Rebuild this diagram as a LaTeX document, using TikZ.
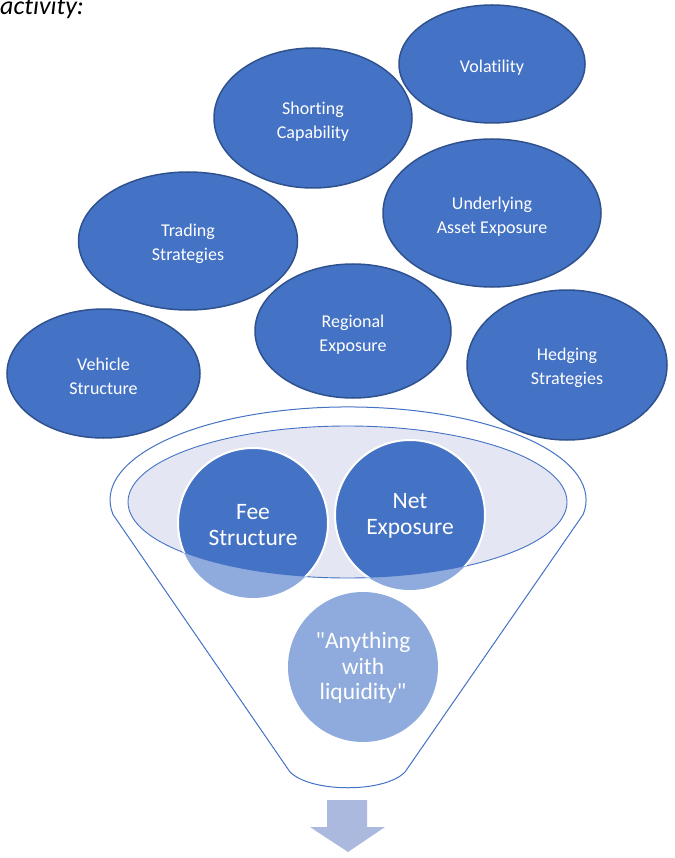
\documentclass[tikz,border=0pt]{standalone}
\usepackage{fontspec}
\setmainfont{Carlito}[Ligatures=NoCommon]
\usetikzlibrary{shapes.geometric}
\definecolor{accent}{HTML}{4472C4}
\definecolor{accentdark}{HTML}{2F528F}
\definecolor{accentlight}{HTML}{8FAADC}
\definecolor{rimfill}{HTML}{E4E7F3}
\definecolor{arrowfill}{HTML}{ACB9DF}
% taller first line so the label block sits a little lower in its bubble
\newcommand{\bubblestrut}{\rule{0pt}{19pt}}
\begin{document}
\begin{tikzpicture}[x=1pt,y=-1pt,
  bubble/.style={ellipse, draw=accentdark, line width=1.5pt, fill=accent,
    text=white, align=center, inner sep=0pt,
    font=\fontsize{18}{24}\selectfont},
  disctext/.style={text=white, align=center, inner sep=0pt,
    font=\fontsize{23.5}{25.5}\selectfont},
  funnelline/.style={draw=accent, line width=1pt}]
\useasboundingbox (0,0) rectangle (674,858);

% heading fragment
\node[anchor=base west, inner sep=0pt, font=\itshape\fontsize{26}{30}\selectfont] (caption) at (0,15) {activity:};

% factor bubbles
\node[bubble, minimum width=193pt, minimum height=129pt] (vehicle) at (103.5,373.5) {\bubblestrut Vehicle\\Structure};
\node[bubble, minimum width=219pt, minimum height=138pt] (trading) at (188,241) {\bubblestrut Trading\\Strategies};
\node[bubble, minimum width=198pt, minimum height=140pt] (shorting) at (313,118) {\bubblestrut Shorting\\Capability};
\node[bubble, minimum width=186pt, minimum height=118pt] (volatility) at (492,64) {\bubblestrut Volatility};
\node[bubble, minimum width=218pt, minimum height=148pt] (underlying) at (492,213) {\bubblestrut Underlying\\Asset Exposure};
\node[bubble, minimum width=196pt, minimum height=134pt] (regional) at (353,331) {\bubblestrut Regional\\Exposure};
\node[bubble, minimum width=200pt, minimum height=150pt] (hedging) at (567,365) {\bubblestrut Hedging\\Strategies};

% funnel body
\path[funnelline, fill=white] (113,514.5)
  arc[start angle=189, end angle=-9, x radius=238pt, y radius=93pt]
  -- (405,772) .. controls (385,793) and (311,793) .. (290,772) -- cycle;

% funnel rim
\path[funnelline, fill=rimfill, line width=0.9pt] (347.5,502) ellipse[x radius=219.5pt, y radius=76pt];

% discs: light outside the rim, full colour inside it
\fill[accentlight] (253,523) circle[radius=75pt];
\fill[accentlight] (410,515) circle[radius=75pt];
\begin{scope}
  \clip (347.5,502) ellipse[x radius=219.5pt, y radius=76pt];
  \fill[accent] (253,523) circle[radius=75pt];
  \fill[accent] (410,515) circle[radius=75pt];
  \draw[white, line width=2pt] (253,523) circle[radius=75pt];
  \draw[white, line width=2pt] (410,515) circle[radius=75pt];
\end{scope}
\fill[accentlight] (363,667) circle[radius=75pt];

\node[disctext] (fee) at (253,525) {Fee\\Structure};
\node[disctext] (net) at (410,516) {Net\\Exposure};
\node[disctext] (liquid) at (363,668) {\textquotedbl Anything\\with\\liquidity\textquotedbl};

% output arrow
\fill[arrowfill] (327,800) -- (367,800) -- (367,827) -- (385,827) -- (348,852)
  -- (310,827) -- (327,827) -- cycle;
\end{tikzpicture}
\end{document}
